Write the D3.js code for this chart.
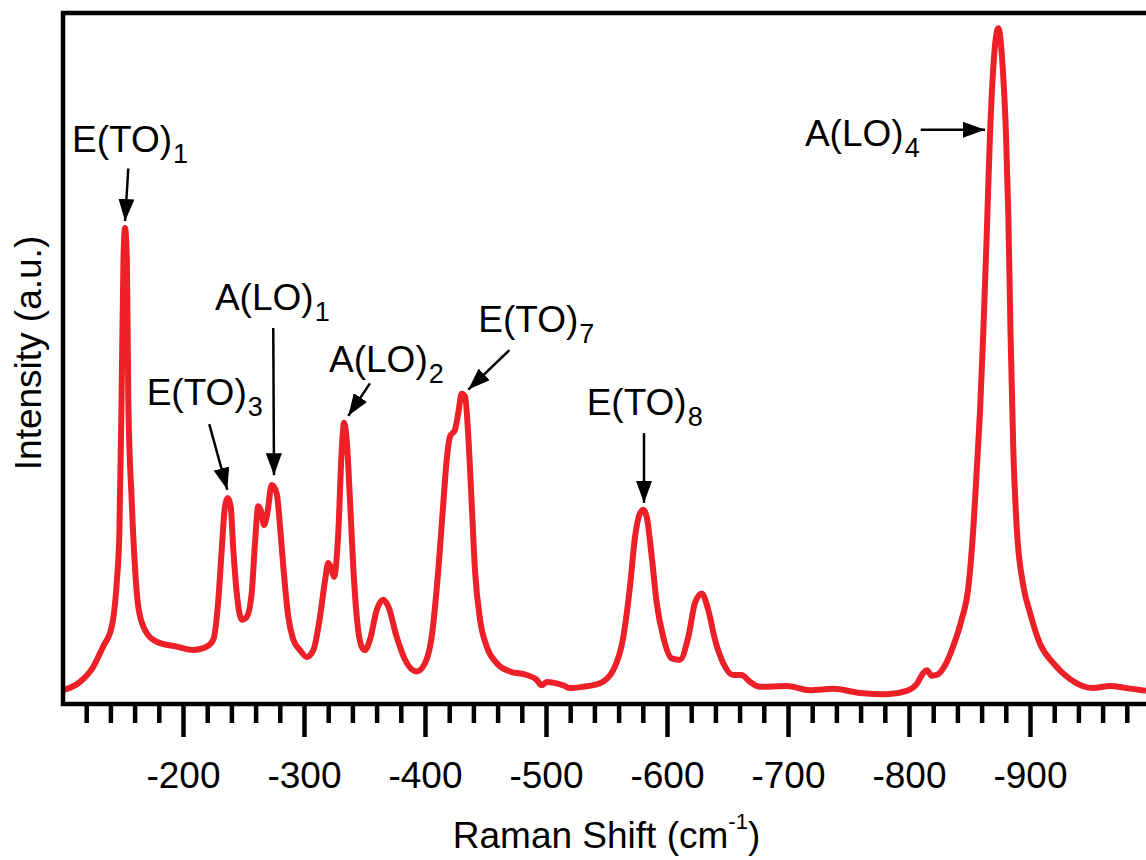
<!DOCTYPE html>
<html>
<head>
<meta charset="utf-8">
<script src="https://cdn.jsdelivr.net/npm/d3@7"></script>
<style>
  body { margin: 0; background: #fff; }
  svg text { font-family: "Liberation Sans", Arial, Helvetica, sans-serif; fill: #000; }
</style>
</head>
<body>
<div id="chart"></div>
<script>
//Raman shift (cm-1, shown negative like the original axis)
var shift = [-101.1, -114.9, -125.9, -133.9, -141.1, -145.2, -147.4, -149.2, -150.8, -152.1,
  -153.6, -154.8, -157.6, -160.3, -163.1, -168.6, -178.3, -194.8, -208.5, -219.6,
  -225.0, -229.2, -232.0, -234.7, -236.9, -239.4, -241.6, -244.4, -248.5, -252.6,
  -256.8, -259.5, -262.2, -265.0, -266.9, -269.7, -273.3, -277.4, -280.2, -282.9,
  -287.0, -291.2, -296.7, -302.2, -307.7, -313.2, -317.4, -320.1, -322.9, -324.8,
  -328.3, -331.2, -333.1, -335.3, -338.0, -340.7, -343.6, -347.7, -350.4, -354.5,
  -360.1, -365.5, -369.7, -376.6, -383.5, -393.1, -400.0, -405.5, -411.0, -415.1,
  -417.9, -420.7, -424.8, -427.5, -430.3, -433.1, -435.8, -438.6, -441.3, -445.5,
  -451.0, -459.3, -470.2, -484.0, -492.3, -496.4, -500.6, -514.3, -519.8, -530.8,
  -544.6, -555.6, -563.9, -569.4, -573.6, -577.7, -580.4, -583.2, -587.4, -591.5,
  -596.9, -603.9, -610.7, -617.6, -623.1, -628.7, -634.1, -639.7, -646.5, -654.8,
  -661.7, -668.6, -676.9, -698.9, -718.2, -737.4, -759.5, -781.6, -798.1, -806.4,
  -811.8, -814.6, -818.8, -822.9, -829.8, -836.6, -843.6, -849.0, -853.2, -856.0,
  -858.7, -861.4, -864.2, -866.9, -869.7, -873.8, -877.4, -880.2, -882.1, -883.9,
  -886.2, -889.0, -894.5, -900.0, -908.3, -919.3, -933.1, -952.3, -966.1, -979.9, -995.9]

//Intensity (a.u.), 0 - 100
var intensity = [2.0, 3.2, 5.4, 8.3, 11.2, 17.5, 24.7, 44.0, 64.3, 68.9,
  64.3, 44.0, 29.5, 19.8, 14.0, 10.7, 9.0, 8.3, 7.8, 8.3,
  9.3, 15.1, 22.3, 28.6, 29.8, 28.6, 22.3, 16.1, 12.2, 12.6,
  16.1, 23.3, 28.6, 27.6, 25.9, 27.6, 31.7, 30.5, 25.7, 19.9,
  12.6, 9.3, 7.8, 6.8, 7.8, 12.6, 17.9, 20.4, 19.4, 18.4,
  24.7, 36.8, 40.7, 38.2, 29.5, 19.9, 12.6, 8.3, 7.8, 9.3,
  13.6, 15.1, 14.1, 9.7, 6.4, 4.7, 5.9, 9.7, 19.4, 29.0,
  35.3, 38.7, 39.7, 42.1, 44.9, 44.5, 38.7, 29.0, 19.4, 12.2,
  8.3, 5.9, 4.7, 4.2, 3.5, 2.7, 3.2, 2.7, 2.3, 2.5,
  3.0, 4.9, 9.7, 17.0, 24.2, 27.6, 28.1, 27.1, 21.3, 14.6,
  9.7, 6.6, 6.4, 9.7, 14.6, 16.0, 13.6, 9.3, 5.9, 4.2,
  4.2, 3.2, 2.5, 2.6, 2.0, 2.2, 1.6, 1.4, 1.9, 2.9,
  4.5, 4.9, 4.1, 4.2, 5.6, 8.4, 12.3, 16.8, 25.5, 33.9,
  42.4, 53.7, 67.7, 82.2, 92.2, 97.8, 92.2, 82.2, 70.6, 53.7,
  36.8, 25.6, 17.1, 13.2, 8.7, 5.9, 3.6, 2.3, 2.6, 2.3, 1.9]

//Tick labels
var majorTicks = [-200, -300, -400, -500, -600, -700, -800, -900]
var minorTicks = d3.range(-120, -1000, -20)

//Peak labels: mode name, subscript, label anchor, arrow tail and arrow tip (shift, intensity)
var peakMode  = ["E(TO)", "E(TO)", "A(LO)", "A(LO)", "E(TO)", "E(TO)", "A(LO)"]
var peakSub   = ["1", "3", "1", "2", "7", "8", "4"]
var labelPos  = [[-108.3, 79.9], [-170.0, 43.3], [-226.4, 57.0], [-320.7, 48.0], [-444.0, 53.9], [-533.6, 41.8], [-714.0, 80.8]]
var arrowTail = [[-154.8, 77.5], [-221.7, 40.5], [-274.6, 54.4], [-354.5, 46.4], [-469.7, 51.2], [-581.0, 39.2], [-809.7, 83.1]]
var arrowTip  = [[-152.1, 69.9], [-236.6, 31.0], [-275.2, 33.1], [-336.6, 41.7], [-435.8, 45.5], [-581.0, 29.1], [-862.8, 83.1]]

var width = 1146
var height = 860
var margin = {left: 62, top: 13, right: -5, bottom: 156}
var fontMain = 37
var fontSub = 27

var svg = d3.select("#chart")
  .append("svg")
  .attr("width", width)
  .attr("height", height)

var xScale = d3.scaleLinear()
  .domain([-100, -1000])
  .range([margin.left, width - margin.right])

var yScale = d3.scaleLinear()
  .domain([0, 100])
  .range([height - margin.bottom, margin.top])

//Clip the spectrum to the frame
svg.append("clipPath")
  .attr("id", "plotClip")
  .append("rect")
  .attr("x", xScale(-100))
  .attr("y", yScale(100))
  .attr("width", xScale(-1000) - xScale(-100))
  .attr("height", yScale(0) - yScale(100))

var points = shift.map(function(s, i) { return [s, intensity[i]] })

var line = d3.line()
  .x(function(d) { return xScale(d[0]) })
  .y(function(d) { return yScale(d[1]) })
  .curve(d3.curveMonotoneX)

svg.append("path")
  .datum(points)
  .attr("clip-path", "url(#plotClip)")
  .attr("fill", "none")
  .attr("stroke", "#ed1f27")
  .attr("stroke-width", 6)
  .attr("stroke-linejoin", "round")
  .attr("d", line)

//Minor and major ticks on the bottom axis
var minorAxis = d3.axisBottom(xScale)
  .tickValues(minorTicks.filter(function(t) { return majorTicks.indexOf(t) < 0 }))
  .tickSize(19)
  .tickFormat("")

var majorAxis = d3.axisBottom(xScale)
  .tickValues(majorTicks)
  .tickSize(33)
  .tickFormat(function(d) { return d })

svg.append("g")
  .attr("class", "minor axis")
  .attr("transform", "translate(0," + yScale(0) + ")")
  .call(minorAxis)

var gMajor = svg.append("g")
  .attr("class", "major axis")
  .attr("transform", "translate(0," + yScale(0) + ")")
  .call(majorAxis)

svg.selectAll(".axis .domain").remove()
svg.selectAll(".axis .tick line")
  .attr("stroke", "#000")
  .attr("stroke-width", 4.5)

gMajor.selectAll(".tick text")
  .attr("font-size", fontMain)
  .attr("dy", 0)
  .attr("y", 84)
  .text(function(d) { return d3.format("d")(d).replace("−", "-") })

//Frame
svg.append("rect")
  .attr("x", xScale(-100) + 1)
  .attr("y", yScale(100))
  .attr("width", xScale(-1000) - xScale(-100))
  .attr("height", yScale(0) - yScale(100))
  .attr("fill", "none")
  .attr("stroke", "#000")
  .attr("stroke-width", 4.5)

//Axis titles
var xTitle = svg.append("text")
  .attr("x", (xScale(-100) + xScale(-1000)) / 2)
  .attr("y", 848)
  .attr("text-anchor", "middle")
  .attr("font-size", fontMain)
xTitle.append("tspan").text("Raman Shift (cm")
xTitle.append("tspan").attr("font-size", 22).attr("dy", -19).text("-1")
xTitle.append("tspan").attr("dy", 19).text(")")

svg.append("text")
  .attr("transform", "translate(41,353) rotate(-90)")
  .attr("text-anchor", "middle")
  .attr("font-size", fontMain)
  .text("Intensity (a.u.)")

//Arrow heads
svg.append("defs").append("marker")
  .attr("id", "arrowHead")
  .attr("viewBox", "0 0 22 16")
  .attr("refX", 22)
  .attr("refY", 8)
  .attr("markerWidth", 22)
  .attr("markerHeight", 16)
  .attr("markerUnits", "userSpaceOnUse")
  .attr("orient", "auto")
  .append("path")
  .attr("d", "M0,0 L22,8 L0,16 Z")
  .attr("fill", "#000")

//Peak labels with arrows
for (i = 0; i < peakMode.length; i++) {
  svg.append("line")
    .attr("x1", xScale(arrowTail[i][0]))
    .attr("y1", yScale(arrowTail[i][1]))
    .attr("x2", xScale(arrowTip[i][0]))
    .attr("y2", yScale(arrowTip[i][1]))
    .attr("stroke", "#000")
    .attr("stroke-width", 2.5)
    .attr("marker-end", "url(#arrowHead)")

  var label = svg.append("text")
    .attr("x", xScale(labelPos[i][0]))
    .attr("y", yScale(labelPos[i][1]))
    .attr("font-size", fontMain)
  label.append("tspan").text(peakMode[i])
  label.append("tspan").attr("font-size", fontSub).attr("dx", 1).attr("dy", 11).text(peakSub[i])
}
</script>
</body>
</html>
